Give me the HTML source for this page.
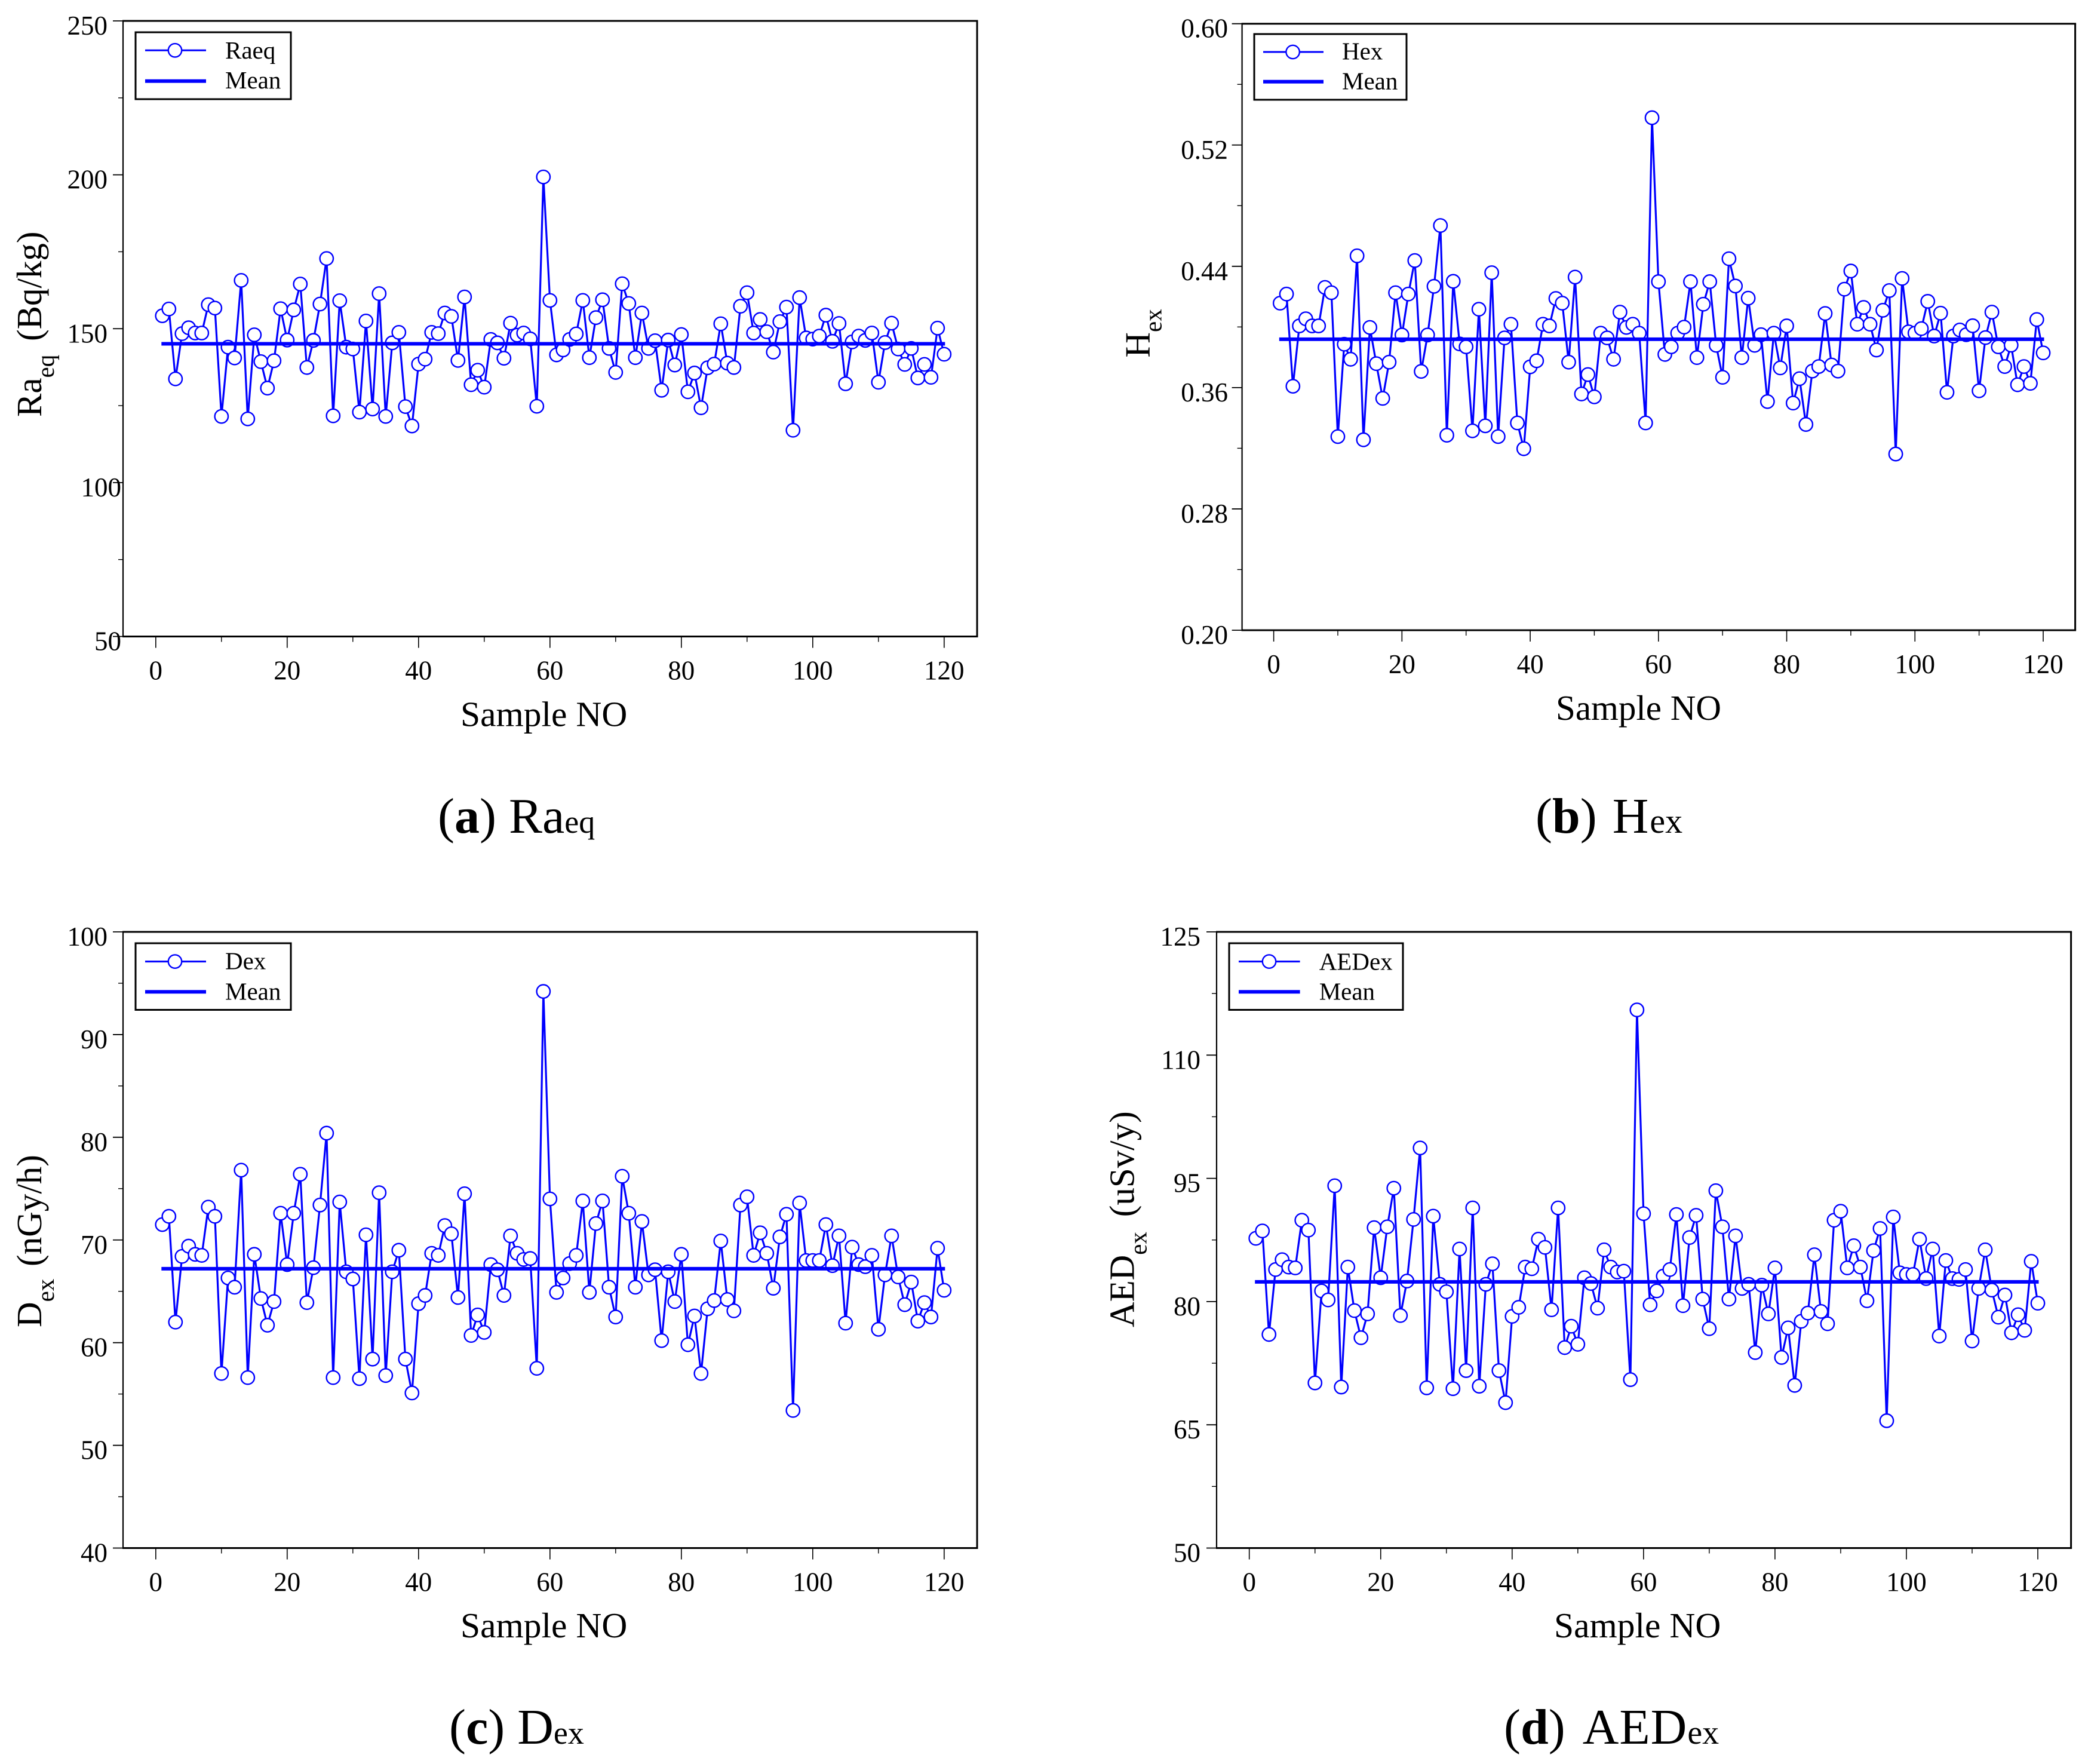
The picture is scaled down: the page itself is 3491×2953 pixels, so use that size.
<!DOCTYPE html>
<html lang="en">
<head>
<meta charset="utf-8">
<title>Radiological hazard indices by sample</title>
<style>
html,body{margin:0;padding:0;background:#fff;}
svg{display:block;font-family:"Liberation Serif",serif;fill:#000;}
</style>
</head>
<body>
<svg id="figure" xmlns="http://www.w3.org/2000/svg" width="3491" height="2953" viewBox="0 0 3491 2953">
<rect x="0" y="0" width="3491" height="2953" fill="#fff"/>

<g id="panel-a"></g>
<g id="panel-b"></g>
<g id="panel-c"></g>
<g id="panel-d"></g>

<!-- Panel a static text -->
<g>
  <rect x="227" y="54" width="260" height="112" fill="#fff" stroke="#000" stroke-width="3"/>
  <line x1="243" x2="345" y1="84.3" y2="84.3" stroke="#0000ff" stroke-width="3"/>
  <circle cx="293" cy="84.3" r="11.2" fill="#fff" stroke="#0000ff" stroke-width="2.4"/>
  <text x="377" y="98" font-size="41">Raeq</text>
  <line x1="243" x2="345" y1="135.7" y2="135.7" stroke="#0000ff" stroke-width="6"/>
  <text x="377" y="147.8" font-size="41">Mean</text>
</g>
<text transform="translate(69 698) rotate(-90)" font-size="59">Ra<tspan font-size="41" dy="21">eq</tspan><tspan dy="-21" dx="8">&#160;(Bq/kg)</tspan></text>
<text x="771" y="1215.5" font-size="59.5">Sample NO</text>
<text x="733" y="1394" font-size="84">(<tspan font-weight="bold">a</tspan>) Ra<tspan font-size="54">eq</tspan></text>

<!-- Panel b static text -->
<g>
  <rect x="2100" y="57" width="255" height="110" fill="#fff" stroke="#000" stroke-width="3"/>
  <line x1="2115" x2="2216" y1="87" y2="87" stroke="#0000ff" stroke-width="3"/>
  <circle cx="2164.6" cy="87" r="11.2" fill="#fff" stroke="#0000ff" stroke-width="2.4"/>
  <text x="2247" y="99.4" font-size="41">Hex</text>
  <line x1="2115" x2="2216" y1="136.7" y2="136.7" stroke="#0000ff" stroke-width="6"/>
  <text x="2247" y="149.3" font-size="41">Mean</text>
</g>
<text transform="translate(1924.6 598.6) rotate(-90)" font-size="59">H<tspan font-size="41" dy="20">ex</tspan></text>
<text x="2605" y="1205" font-size="59">Sample NO</text>
<text x="2571" y="1394" font-size="84">(<tspan font-weight="bold">b</tspan>) <tspan dx="5">H</tspan><tspan font-size="58" dx="2">ex</tspan></text>

<!-- Panel c static text -->
<g>
  <rect x="227" y="1579" width="260" height="111.5" fill="#fff" stroke="#000" stroke-width="3"/>
  <line x1="243" x2="345" y1="1609.6" y2="1609.6" stroke="#0000ff" stroke-width="3"/>
  <circle cx="293" cy="1609.6" r="11.2" fill="#fff" stroke="#0000ff" stroke-width="2.4"/>
  <text x="377" y="1622.6" font-size="41">Dex</text>
  <line x1="243" x2="345" y1="1660.4" y2="1660.4" stroke="#0000ff" stroke-width="6"/>
  <text x="377" y="1673.5" font-size="41">Mean</text>
</g>
<text transform="translate(69 2222) rotate(-90)" font-size="59">D<tspan font-size="41" dy="21">ex</tspan><tspan dy="-21" dx="6">&#160;(nGy/h)</tspan></text>
<text x="771" y="2741" font-size="59.5">Sample NO</text>
<text x="752" y="2919" font-size="84">(<tspan font-weight="bold">c</tspan>) D<tspan font-size="54">ex</tspan></text>

<!-- Panel d static text -->
<g>
  <rect x="2058" y="1579" width="291" height="111.5" fill="#fff" stroke="#000" stroke-width="3"/>
  <line x1="2074" x2="2176.6" y1="1609.6" y2="1609.6" stroke="#0000ff" stroke-width="3"/>
  <circle cx="2125" cy="1609.6" r="11.2" fill="#fff" stroke="#0000ff" stroke-width="2.4"/>
  <text x="2208.7" y="1623.6" font-size="41">AEDex</text>
  <line x1="2074" x2="2176.6" y1="1660.4" y2="1660.4" stroke="#0000ff" stroke-width="6"/>
  <text x="2208.7" y="1673.5" font-size="41">Mean</text>
</g>
<text transform="translate(1898.7 2222) rotate(-90)" font-size="59">AED<tspan font-size="41" dy="21">ex</tspan><tspan dy="-21" dx="10">&#160;(uSv/y)</tspan></text>
<text x="2602" y="2741" font-size="59.5">Sample NO</text>
<text x="2518" y="2919" font-size="84">(<tspan font-weight="bold">d</tspan>) <tspan dx="8" letter-spacing="1">AED</tspan><tspan font-size="56">ex</tspan></text>
</svg>

<script>
const xTickLabels = ['0','20','40','60','80','100','120'];
const raeqTickLabels = ['50','100','150','200','250'];
const hexTickLabels = ['0.20','0.28','0.36','0.44','0.52','0.60'];
const dexTickLabels = ['40','50','60','70','80','90','100'];
const aedexTickLabels = ['50','65','80','95','110','125'];

const raeqMean = 145.1;
const hexMean = 0.3919;
const dexMean = 67.2;
const aedexMean = 82.4;

const raeqValues = [
154.2,156.4,133.7,148.4,150.3,148.6,148.6,157.8,156.7,121.5,
144.0,140.5,165.7,120.7,148.0,139.3,130.7,139.6,156.5,146.3,
156.1,164.5,137.4,146.2,158.0,172.8,121.7,159.1,144.0,143.4,
122.9,152.5,123.9,161.4,121.5,145.4,148.8,124.7,118.4,138.5,
140.1,148.8,148.4,155.1,154.0,139.7,160.3,131.8,136.5,131.0,
146.5,145.4,140.4,151.8,147.9,148.6,146.7,124.8,199.3,159.2,
141.5,143.1,146.5,148.3,159.2,140.6,153.6,159.4,143.6,135.8,
164.6,158.2,140.6,155.1,143.6,146.1,130.0,146.3,138.2,148.1,
129.5,135.6,124.3,137.3,138.5,151.6,138.8,137.4,157.3,161.7,
148.6,153.0,149.0,142.4,152.3,157.0,117.0,160.1,147.0,146.6,
147.6,154.4,145.9,151.7,132.1,145.7,147.6,146.2,148.6,132.6,
145.5,151.8,143.4,138.4,143.6,134.0,138.4,134.2,150.2,141.7];

const hexValues = [
.4157,.4217,.3609,.4007,.4054,.4007,.4007,.4261,.4226,.3277,
.3886,.3787,.4469,.3256,.3997,.3758,.3529,.3768,.4226,.3947,
.4217,.4438,.3707,.3947,.4268,.4669,.3286,.4301,.3888,.3869,
.3315,.4117,.3348,.4358,.3277,.3928,.4018,.3367,.3197,.3737,
.3777,.4018,.4007,.4188,.4157,.3768,.4329,.3558,.3686,.3539,
.3959,.3928,.3787,.4098,.3997,.4018,.3959,.3367,.5380,.4299,
.3819,.3869,.3959,.3999,.4299,.3798,.4150,.4299,.3879,.3668,
.4450,.4270,.3798,.4190,.3879,.3949,.3508,.3959,.3730,.4007,
.3498,.3659,.3357,.3709,.3739,.4089,.3749,.3709,.4249,.4369,
.4018,.4129,.4018,.3848,.4110,.4240,.3162,.4320,.3968,.3959,
.3989,.4169,.3940,.4091,.3569,.3940,.3980,.3949,.4008,.3579,
.3930,.4098,.3869,.3739,.3880,.3619,.3739,.3628,.4049,.3829];

const dexValues = [
71.5,72.3,62.0,68.4,69.4,68.6,68.5,73.2,72.3,57.0,
66.3,65.4,76.8,56.6,68.6,64.3,61.7,64.0,72.6,67.6,
72.6,76.4,63.9,67.3,73.4,80.4,56.6,73.7,66.9,66.2,
56.5,70.5,58.4,74.6,56.8,66.9,69.0,58.4,55.1,63.8,
64.6,68.7,68.5,71.4,70.6,64.4,74.5,60.7,62.7,61.0,
67.6,67.1,64.6,70.4,68.7,68.1,68.2,57.5,94.2,74.0,
64.9,66.3,67.7,68.5,73.8,64.9,71.6,73.8,65.4,62.5,
76.2,72.6,65.4,71.8,66.6,67.1,60.2,66.9,64.0,68.6,
59.8,62.6,57.0,63.3,64.1,69.9,64.2,63.1,73.4,74.2,
68.5,70.7,68.7,65.3,70.3,72.5,53.4,73.6,68.0,68.0,
68.0,71.5,67.5,70.4,61.9,69.3,67.6,67.4,68.5,61.3,
66.6,70.4,66.4,63.7,65.9,62.1,63.9,62.5,69.2,65.1];

const aedexValues = [
87.7,88.6,76.0,83.9,85.1,84.2,84.1,89.9,88.7,70.1,
81.3,80.2,94.1,69.6,84.2,78.9,75.6,78.5,89.0,82.9,
89.1,93.8,78.3,82.5,90.0,98.7,69.5,90.4,82.1,81.2,
69.4,86.4,71.6,91.4,69.7,82.1,84.6,71.6,67.7,78.2,
79.3,84.2,84.0,87.6,86.6,79.0,91.4,74.4,77.0,74.8,
82.9,82.2,79.2,86.3,84.2,83.6,83.7,70.5,115.5,90.7,
79.6,81.3,83.1,83.9,90.6,79.5,87.8,90.5,80.3,76.7,
93.5,89.1,80.3,88.0,81.6,82.1,73.8,82.0,78.5,84.1,
73.2,76.8,69.8,77.6,78.6,85.7,78.8,77.3,89.9,91.0,
84.1,86.8,84.2,80.1,86.2,88.9,65.5,90.3,83.5,83.3,
83.3,87.6,82.8,86.4,75.8,85.0,82.8,82.7,83.9,75.2,
81.6,86.3,81.4,78.1,80.8,76.2,78.4,76.5,84.9,79.8];

const SVG_NS = 'http://www.w3.org/2000/svg';

function addNode(parent, tag, attrs) {
  const el = document.createElementNS(SVG_NS, tag);
  for (const key in attrs) el.setAttribute(key, attrs[key]);
  parent.appendChild(el);
  return el;
}

function linearScale(d0, d1, r0, r1) {
  return function (v) { return r0 + (v - d0) * (r1 - r0) / (d1 - d0); };
}

function drawPanel(cfg) {
  const root = document.getElementById(cfg.id);
  const yTicks = cfg.tickLabels.map(Number);
  const xScale = linearScale(0, 120, cfg.x0, cfg.x120);
  const yScale = linearScale(yTicks[0], yTicks[yTicks.length - 1], cfg.bottom, cfg.top);

  // x ticks: major at labelled values, minor halfway between
  const xMajor = xTickLabels.map(Number);
  xMajor.forEach(function (v, i) {
    const px = xScale(v);
    const tick = addNode(root, 'line', {x1: px, x2: px, y1: cfg.bottom, y2: cfg.bottom + 19, stroke: '#000', 'stroke-width': 1.6});
    
    
    const label = addNode(root, 'text', {x: px, y: cfg.bottom + 72, 'font-size': 45, 'text-anchor': 'middle'});
    label.textContent = xTickLabels[i];
    
    
    if (i < xMajor.length - 1) {
      const mx = xScale((v + xMajor[i + 1]) / 2);
      const minor = addNode(root, 'line', {x1: mx, x2: mx, y1: cfg.bottom, y2: cfg.bottom + 9, stroke: '#000', 'stroke-width': 1.4});
      
      
    }
  });

  // y ticks
  yTicks.forEach(function (v, i) {
    const py = yScale(v);
    const tick = addNode(root, 'line', {x1: cfg.left - 17, x2: cfg.left, y1: py, y2: py, stroke: '#000', 'stroke-width': 1.8});
    
    
    const shifted = cfg.shiftedLabels.indexOf(cfg.tickLabels[i]) >= 0;
    const label = addNode(root, 'text', {x: shifted ? cfg.left - 3 : cfg.labelRight, y: py + 23, 'font-size': 45, 'text-anchor': 'end'});
    label.textContent = cfg.tickLabels[i];
    
    
    if (i < yTicks.length - 1) {
      const my = yScale((v + yTicks[i + 1]) / 2);
      const minor = addNode(root, 'line', {x1: cfg.left - 8, x2: cfg.left, y1: my, y2: my, stroke: '#000', 'stroke-width': 1.4});
      
      
    }
  });

  // plot frame
  const frameTop = addNode(root, 'line', {x1: cfg.left - 1, x2: cfg.right + 1.5, y1: cfg.top, y2: cfg.top, stroke: '#000', 'stroke-width': 3});
  
  
  const frameRight = addNode(root, 'line', {x1: cfg.right, x2: cfg.right, y1: cfg.top, y2: cfg.bottom, stroke: '#000', 'stroke-width': 3});
  
  
  const frameBottom = addNode(root, 'line', {x1: cfg.left - 1, x2: cfg.right + 1.5, y1: cfg.bottom, y2: cfg.bottom, stroke: '#000', 'stroke-width': 3});
  
  
  const frameLeft = addNode(root, 'line', {x1: cfg.left, x2: cfg.left, y1: cfg.top, y2: cfg.bottom, stroke: '#000', 'stroke-width': 2.2});
  
  

  // series line
  const pts = cfg.values.map(function (v, i) { return xScale(i + 1).toFixed(2) + ',' + yScale(v).toFixed(2); }).join(' ');
  const line = addNode(root, 'polyline', {points: pts, fill: 'none', stroke: '#0000ff', 'stroke-width': 3.2, 'stroke-linejoin': 'round'});
  
  

  // series markers
  cfg.values.forEach(function (v, i) {
    const dot = addNode(root, 'circle', {cx: xScale(i + 1), cy: yScale(v), r: 11.2, fill: '#fff', stroke: '#0000ff', 'stroke-width': 2.4});
    
    
  });

  // mean line
  const meanLine = addNode(root, 'line', {x1: xScale(1) - 1.5, x2: xScale(120) + 1.5, y1: yScale(cfg.mean), y2: yScale(cfg.mean), stroke: '#0000ff', 'stroke-width': 6});
  
  
}

drawPanel({id: 'panel-a', prefix: 'raeq', left: 206, right: 1636, top: 35, bottom: 1065.5, x0: 260.8, x120: 1580.8,
  labelRight: 180, shiftedLabels: ['50', '100'], tickLabels: raeqTickLabels, values: raeqValues, mean: raeqMean});
drawPanel({id: 'panel-b', prefix: 'hex', left: 2079.6, right: 3474.6, top: 39.7, bottom: 1055, x0: 2132.6, x120: 3421,
  labelRight: 2056, shiftedLabels: [], tickLabels: hexTickLabels, values: hexValues, mean: hexMean});
drawPanel({id: 'panel-c', prefix: 'dex', left: 206, right: 1636, top: 1560, bottom: 2591.5, x0: 260.8, x120: 1580.8,
  labelRight: 180, shiftedLabels: [], tickLabels: dexTickLabels, values: dexValues, mean: dexMean});
drawPanel({id: 'panel-d', prefix: 'aedex', left: 2037, right: 3467.6, top: 1560, bottom: 2591.5, x0: 2091.7, x120: 3412,
  labelRight: 2010, shiftedLabels: [], tickLabels: aedexTickLabels, values: aedexValues, mean: aedexMean});
</script>
</body>
</html>
